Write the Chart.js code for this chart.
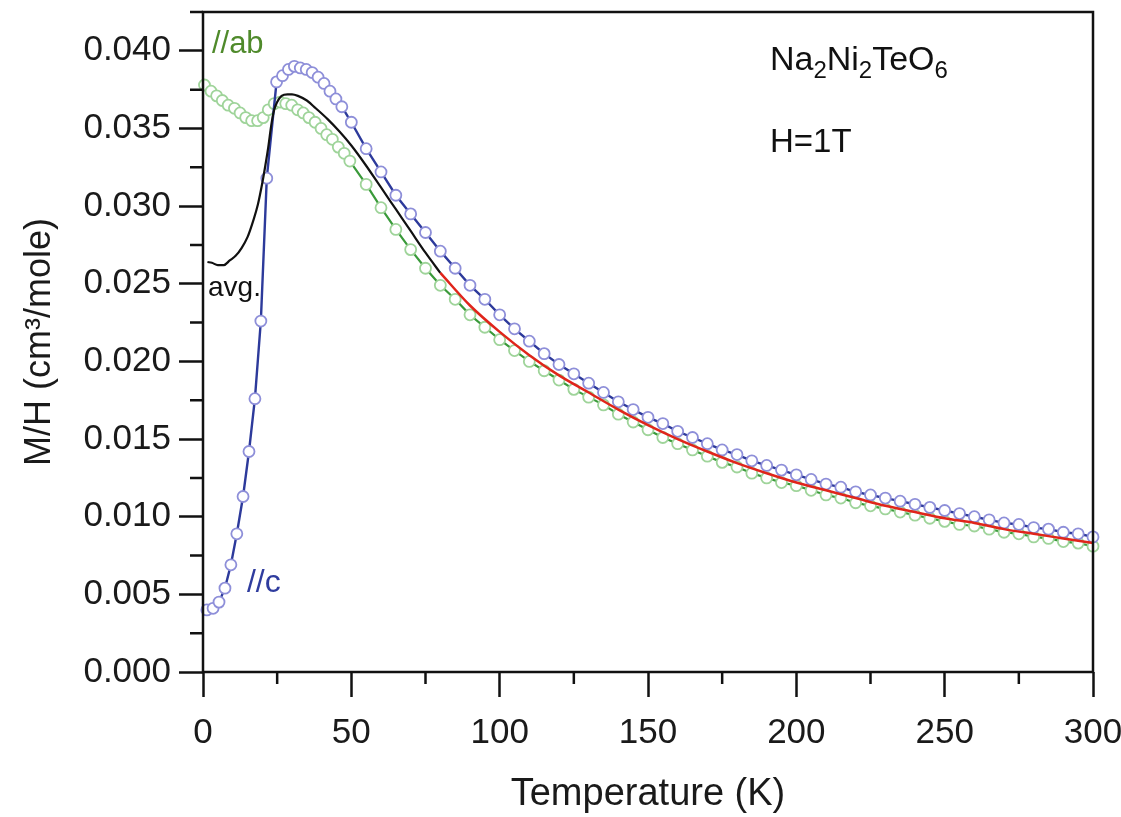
<!DOCTYPE html>
<html><head><meta charset="utf-8">
<script src="https://cdn.jsdelivr.net/npm/chart.js@4.4.1/dist/chart.umd.min.js"></script>
<style>html,body{margin:0;padding:0;background:#fff;overflow:hidden;}canvas{display:block;}</style>
</head><body>
<canvas id="c" width="1121" height="817"></canvas>
<script>
// ---- data ----
// //c (blue)
const TEMP_C = [1.3,3.4,5.4,7.4,9.4,11.4,13.5,15.5,17.5,19.5,21.5,24.8,26.8,28.8,30.8,32.8,34.8,36.8,38.8,40.8,42.8,44.8,46.8,
  50,55,60,65,70,75,80,85,90,95,100,105,110,115,120,125,130,135,140,145,150,155,160,165,170,175,180,185,190,195,200,
  205,210,215,220,225,230,235,240,245,250,255,260,265,270,275,280,285,290,295,300];
const MH_C = [0.0040,0.0041,0.0045,0.0054,0.0069,0.0089,0.0113,0.0142,0.0176,0.0226,0.0318,0.0380,0.0384,0.0388,0.0390,0.0389,0.0388,0.0386,0.0383,0.0379,0.0374,0.0369,0.0364,
  0.0354,0.0337,0.0322,0.0307,0.0295,0.0283,0.0271,0.0260,0.0249,0.0240,0.0230,0.0221,0.0213,0.0205,0.0198,0.0192,0.0186,0.0180,0.0174,0.0169,0.0164,0.0160,0.0155,0.0151,0.0147,0.0143,0.0140,0.0136,0.0133,0.0130,0.0127,
  0.0124,0.0121,0.0119,0.0116,0.0114,0.0112,0.0110,0.0108,0.0106,0.0104,0.0102,0.0100,0.0098,0.0096,0.0095,0.0093,0.0092,0.0090,0.0089,0.0087];
// //ab (green)
const TEMP_AB = [0.5,2.7,4.6,6.5,8.5,10.6,12.5,14.4,16.4,18.4,20.3,22,24,26,27.9,29.9,31.9,33.8,35.7,37.8,39.8,41.7,43.6,45.6,47.6,49.5,
  55,60,65,70,75,80,85,90,95,100,105,110,115,120,125,130,135,140,145,150,155,160,165,170,175,180,185,190,195,200,
  205,210,215,220,225,230,235,240,245,250,255,260,265,270,275,280,285,290,295,300];
const MH_AB = [0.0378,0.0374,0.0371,0.0368,0.0365,0.0363,0.0360,0.0357,0.0355,0.0355,0.0357,0.0362,0.0366,0.0367,0.0366,0.0365,0.0362,0.0360,0.0357,0.0354,0.0350,0.0346,0.0343,0.0338,0.0334,0.0329,
  0.0314,0.0299,0.0285,0.0272,0.0260,0.0249,0.0240,0.0230,0.0222,0.0214,0.0207,0.0200,0.0194,0.0188,0.0182,0.0177,0.0172,0.0166,0.0161,0.0156,0.0151,0.0147,0.0143,0.0139,0.0135,0.0132,0.0128,0.0125,0.0122,0.0120,
  0.0117,0.0114,0.0112,0.0109,0.0107,0.0105,0.0103,0.0101,0.0099,0.0097,0.0095,0.0094,0.0092,0.0090,0.0089,0.0087,0.0086,0.0084,0.0083,0.0081];
// avg. (black)
const TEMP_AVG = [1.5,3,5,7,9,11,13,15,17,18.5,20,21,22,23,24,25,26.5,28.5,30,32,35,38,42,46,50,55,60,65,70,75,80];
const MH_AVG = [0.0264,0.02635,0.0262,0.0262,0.0265,0.0268,0.0273,0.0280,0.0291,0.0301,0.0315,0.0326,0.0338,0.0352,0.0362,0.0367,0.0371,0.0372,0.0372,0.0371,0.0368,0.0363,0.0356,0.0348,0.0339,0.0326,0.0312,0.0298,0.0284,0.0270,0.0257];
// fit (red)
const TEMP_FIT = [80,90,100,110,120,130,140,150,160,170,180,190,200,210,220,230,240,250,260,270,280,290,300];
const MH_FIT = [0.0257,0.0236,0.0219,0.0204,0.0191,0.0180,0.0169,0.0159,0.0150,0.0142,0.01345,0.0128,0.0122,0.0117,0.0112,0.0107,0.0103,0.0099,0.0096,0.0092,0.0089,0.0086,0.0083];
// tick labels
const X_TICK_LABELS = ['0','50','100','150','200','250','300'];
const Y_TICK_LABELS = ['0.000','0.005','0.010','0.015','0.020','0.025','0.030','0.035','0.040'];

const FONT = "'Liberation Sans', Arial, Helvetica, sans-serif";
const pts = (xs, ys) => xs.map((x, i) => ({x: x, y: ys[i]}));
const isMajorX = v => Math.abs(v / 50 - Math.round(v / 50)) < 1e-6;
const isMajorY = v => Math.abs(v / 0.005 - Math.round(v / 0.005)) < 1e-6;

const decor = {
  id: 'decor',
  afterDraw(chart) {
    const {ctx, chartArea: a, scales: {x, y}} = chart;
    ctx.save();
    ctx.strokeStyle = '#111';
    ctx.lineWidth = 2.5;
    ctx.beginPath();
    x.ticks.forEach(t => { if (!isMajorX(t.value)) { const px = x.getPixelForValue(t.value); ctx.moveTo(px, a.bottom); ctx.lineTo(px, a.bottom + 12); } });
    y.ticks.forEach(t => { if (!isMajorY(t.value)) { const py = y.getPixelForValue(t.value); ctx.moveTo(a.left, py); ctx.lineTo(a.left - 13, py); } });
    ctx.stroke();
    ctx.lineWidth = 2.5;
    ctx.strokeRect(a.left, a.top, a.right - a.left, a.bottom - a.top);
    ctx.textBaseline = 'alphabetic';
    ctx.textAlign = 'left';
    const put = (txt, tx, vy, color, size) => {
      ctx.fillStyle = color; ctx.font = size + 'px ' + FONT;
      ctx.fillText(txt, x.getPixelForValue(tx), y.getPixelForValue(vy));
    };
    put('//ab', 3.0, 0.03986, '#4f8a2b', 31);
    put('avg.', 1.7, 0.02421, '#111', 28);
    put('//c', 14.8, 0.00515, '#2f3c9e', 32);
    put('H=1T', 191.1, 0.03349, '#111', 33);
    let px = x.getPixelForValue(191.1), py = y.getPixelForValue(0.03877);
    const parts = [['Na',0],['2',1],['Ni',0],['2',1],['TeO',0],['6',1]];
    ctx.fillStyle = '#111';
    parts.forEach(([s, sub]) => {
      ctx.font = (sub ? 24 : 34) + 'px ' + FONT;
      ctx.fillText(s, px, py + (sub ? 8 : 0));
      px += ctx.measureText(s).width;
    });
    ctx.restore();
  }
};

new Chart(document.getElementById('c'), {
  type: 'line',
  data: {
    datasets: [
      {label: 'fit', data: pts(TEMP_FIT, MH_FIT), borderColor: '#e0251b', borderWidth: 2.5, pointRadius: 0, cubicInterpolationMode: 'monotone', clip: false},
      {label: 'avg.', data: pts(TEMP_AVG, MH_AVG), borderColor: '#111', borderWidth: 2.2, pointRadius: 0, cubicInterpolationMode: 'monotone', clip: false},
      {label: '//c', data: pts(TEMP_C, MH_C), borderColor: '#2d3a9b', borderWidth: 2.4, pointRadius: 5.5, pointBorderWidth: 1.8,
        pointBorderColor: '#8e8fd9', pointBackgroundColor: '#ffffff', tension: 0, clip: false},
      {label: '//ab', data: pts(TEMP_AB, MH_AB), borderColor: '#3a9a3a', borderWidth: 2.2, pointRadius: 5.5, pointBorderWidth: 1.8,
        pointBorderColor: '#9fd49a', pointBackgroundColor: '#ffffff', tension: 0, clip: false}
    ]
  },
  options: {
    responsive: false,
    animation: false,
    devicePixelRatio: 1,
    layout: {padding: {top: 12, right: 28, left: 0, bottom: 0}},
    plugins: {legend: {display: false}, tooltip: {enabled: false}},
    scales: {
      x: {
        type: 'linear', min: 0, max: 300,
        afterFit: s => { s.height = 145; s.paddingLeft = 0; s.paddingRight = 0; },
        border: {display: false},
        grid: {drawOnChartArea: false, drawTicks: true, tickLength: 25, tickWidth: 2.5,
          tickColor: c => isMajorX(c.tick.value) ? '#111' : 'rgba(0,0,0,0)'},
        ticks: {stepSize: 25, autoSkip: false, maxRotation: 0, padding: 15, color: '#1a1a1a',
          font: {family: FONT, size: 35},
          callback: v => isMajorX(v) ? X_TICK_LABELS[Math.round(v / 50)] : ''},
        title: {display: true, text: 'Temperature (K)', color: '#1a1a1a', font: {family: FONT, size: 38}, padding: {top: 0, bottom: 0}}
      },
      y: {
        min: 0, max: 0.0425,
        afterFit: s => { s.width = 203; s.paddingTop = 0; s.paddingBottom = 0; },
        border: {display: false},
        grid: {drawOnChartArea: false, drawTicks: true, tickLength: 24, tickWidth: 2.5,
          tickColor: c => isMajorY(c.tick.value) ? '#111' : 'rgba(0,0,0,0)'},
        ticks: {stepSize: 0.0025, autoSkip: false, padding: 8, color: '#1a1a1a',
          font: {family: FONT, size: 35},
          callback: v => isMajorY(v) ? Y_TICK_LABELS[Math.round(v / 0.005)] : ''},
        title: {display: true, text: 'M/H (cm³/mole)', color: '#1a1a1a', font: {family: FONT, size: 36}, padding: {top: 18, bottom: 0}}
      }
    }
  },
  plugins: [decor]
});
</script>
</body></html>
